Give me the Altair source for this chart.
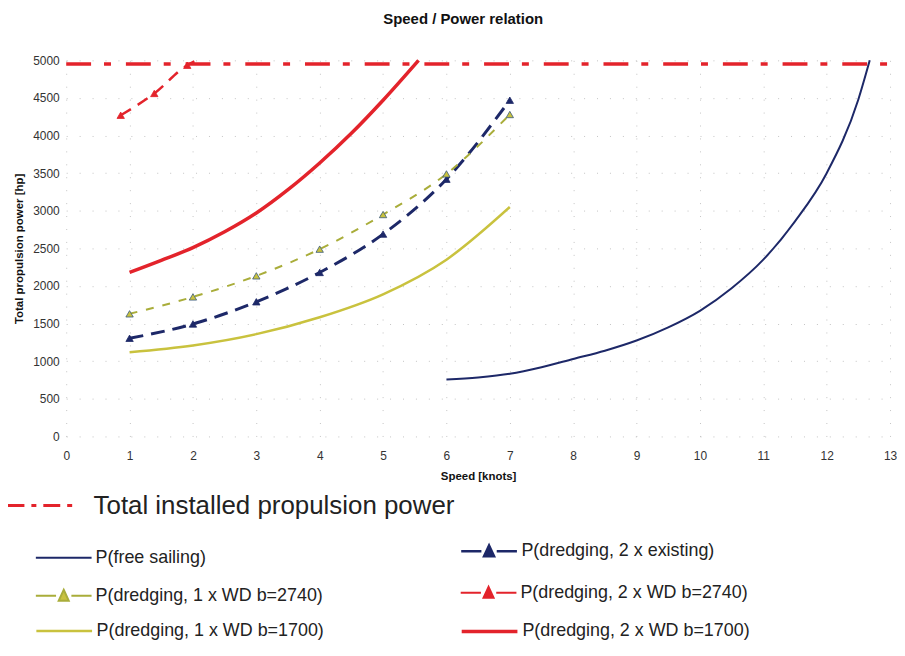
import altair as alt
import pandas as pd

# ---------------- data ----------------
total_x = [0, 13]
total_y = [4950, 4950]

free_x = [6, 6.5, 7, 7.5, 8, 8.5, 9, 9.5, 10, 10.5, 11, 11.5, 12, 12.5, 12.68]
free_y = [757, 785, 833, 920, 1030, 1140, 1275, 1450, 1670, 1970, 2350, 2860, 3500, 4480, 5000]

exist_x = [1, 2, 3, 4, 5, 6, 7]
exist_y = [1305, 1495, 1790, 2180, 2690, 3420, 4470]

wd1_2740_x = [1, 2, 3, 4, 5, 6, 7]
wd1_2740_y = [1630, 1855, 2135, 2490, 2950, 3490, 4280]

wd2_2740_x = [0.86, 1.39, 1.91, 2.06]
wd2_2740_y = [4270, 4560, 4935, 5000]
wd2_2740_marks = 3  # triangles on the first three points

wd1_1700_x = [1, 2, 3, 4, 5, 6, 7]
wd1_1700_y = [1120, 1210, 1360, 1585, 1890, 2350, 3050]

wd2_1700_x = [1, 1.5, 2, 2.5, 3, 3.5, 4, 4.5, 5, 5.56]
wd2_1700_y = [2180, 2340, 2510, 2720, 2970, 3280, 3635, 4030, 4470, 5000]

x_ticks = list(range(0, 14))
y_ticks = list(range(0, 5001, 500))

names = {
    "total": "Total installed propulsion power",
    "free": "P(free sailing)",
    "exist": "P(dredging, 2 x existing)",
    "wd1_2740": "P(dredging, 1 x WD b=2740)",
    "wd2_2740": "P(dredging, 2 x WD b=2740)",
    "wd1_1700": "P(dredging, 1 x WD b=1700)",
    "wd2_1700": "P(dredging, 2 x WD b=1700)",
}

NAVY = "#1d2868"
RED = "#e3232b"
OLIVE = "#a9ad3a"
YELLOW = "#c9c23e"

FONT = "Liberation Sans"
NARROW = "Liberation Sans Narrow, Liberation Sans"

LINE_PATH = "M-2,0H2"
TRI_PATH = "M-2,0H-0.55M0.55,0H2M0,-0.42L0.36,0.36L-0.36,0.36Z"


def frame(x, y, key):
    return pd.DataFrame({"speed": x, "power": y, "series": names[key]})


X = alt.X("speed:Q", scale=alt.Scale(domain=[0, 13], nice=False),
          axis=alt.Axis(values=x_ticks, title="Speed [knots]", format="d", labelFlush=False))
Y = alt.Y("power:Q", scale=alt.Scale(domain=[0, 5000], nice=False),
          axis=alt.Axis(values=y_ticks, title="Total propulsion power [hp]", format="d", labelFlush=False))


def legend(lx, ly, size, font_size, offset, dash=None, shape=LINE_PATH, fill=None, sw=2):
    kw = dict(title=None, orient="none", legendX=lx, legendY=ly,
              symbolType=shape, symbolSize=size, symbolStrokeWidth=sw,
              labelFont=NARROW, labelFontSize=font_size, labelColor="#222",
              labelOffset=offset, padding=0, labelLimit=600)
    if dash is not None:
        kw["symbolDash"] = dash
    if fill is not None:
        kw["symbolFillColor"] = fill
    return alt.Legend(**kw)


def line_layer(key, x, y, color, width, dash, leg):
    mk = dict(strokeWidth=width, interpolate="monotone")
    if dash is not None:
        mk["strokeDash"] = dash
    return alt.Chart(frame(x, y, key)).mark_line(**mk).encode(
        x=X, y=Y,
        color=alt.Color("series:N", scale=alt.Scale(domain=[names[key]], range=[color]), legend=leg),
    )


def tri_layer(key, x, y, fill, stroke):
    return alt.Chart(frame(x, y, key)).mark_point(
        shape="triangle-up", filled=True, fill=fill, stroke=stroke, strokeWidth=0.8,
        size=55, opacity=1,
    ).encode(x=X, y=Y)


S = 784     # legend symbols 56 px wide, 28 px box
ST = 1225   # total legend symbol 70 px wide
LF = 18     # legend label size

layers = [
    line_layer("total", total_x, total_y, RED, 3.5, [25, 13, 7, 15],
               legend(-43, 428.5, ST, 26, 32.5, dash=[17, 7, 5, 7], sw=3)),
    line_layer("free", free_x, free_y, NAVY, 2, None,
               legend(-17.5, 485, S, LF, 17)),
    line_layer("exist", exist_x, exist_y, NAVY, 3, [14, 8],
               legend(409.5, 478, S, LF, 17, shape=TRI_PATH, fill=NAVY, sw=2.5)),
    line_layer("wd1_2740", wd1_2740_x, wd1_2740_y, OLIVE, 2, [8, 9],
               legend(-17.5, 523, S, LF, 17, shape=TRI_PATH, fill=YELLOW, sw=2)),
    line_layer("wd2_2740", wd2_2740_x, wd2_2740_y, RED, 2.5, [12, 8],
               legend(409.5, 520, S, LF, 17, shape=TRI_PATH, fill=RED, sw=2)),
    line_layer("wd1_1700", wd1_1700_x, wd1_1700_y, YELLOW, 2.5, None,
               legend(-17.5, 558, S, LF, 17, sw=2.5)),
    line_layer("wd2_1700", wd2_1700_x, wd2_1700_y, RED, 3.5, None,
               legend(409.5, 558, S, LF, 17, sw=3.5)),
    tri_layer("exist", exist_x, exist_y, NAVY, NAVY),
    tri_layer("wd1_2740", wd1_2740_x, wd1_2740_y, YELLOW, "#3a5a7a"),
    tri_layer("wd2_2740", wd2_2740_x[:wd2_2740_marks], wd2_2740_y[:wd2_2740_marks], RED, RED),
]

chart = alt.layer(*layers).resolve_scale(color="independent").properties(
    width=828,
    height=378,
    padding={"left": 5.5, "top": 2, "right": 0, "bottom": 0},
    title=alt.Title("Speed / Power relation", font=FONT, fontSize=15, fontWeight="bold",
                    color="#111", dx=-15, offset=27, anchor="middle"),
).configure_view(stroke=None).configure_axis(
    domain=False, ticks=False,
    labelFont=FONT, labelFontSize=12, labelColor="#333",
    titleFont=FONT, titleFontSize=11.5, titleFontWeight="bold", titleColor="#111",
    grid=True, gridColor="#c4c4c4", gridDash=[1, 12], gridWidth=1,
).configure_axisX(labelPadding=14, titlePadding=9).configure_axisY(labelPadding=7, titlePadding=8)

chart.save("out.html", embed_options={"renderer": "svg", "actions": False})
